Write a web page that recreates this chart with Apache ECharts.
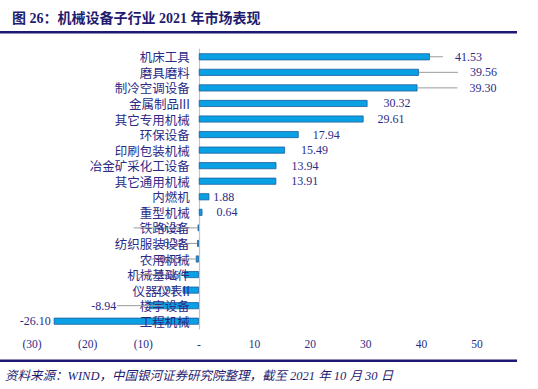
<!DOCTYPE html>
<html><head><meta charset="utf-8">
<script src="https://cdn.jsdelivr.net/npm/echarts@6/dist/echarts.min.js"></script>
<style>html,body{margin:0;padding:0;background:#fff;}#c{width:538px;height:389px;}</style>
</head><body><div id="c"></div>
<script>
// ---- data ----
const categories = ['机床工具','磨具磨料','制冷空调设备','金属制品III','其它专用机械','环保设备','印刷包装机械','冶金矿采化工设备','其它通用机械','内燃机','重型机械','铁路设备','纺织服装设备','农用机械','机械基础件','仪器仪表II','楼宇设备','工程机械'];
const values = [41.53,39.56,39.30,30.32,29.61,17.94,15.49,13.94,13.91,1.88,0.64,-0.22,-0.32,-0.55,-2.66,-2.91,-8.94,-26.10];
const xTicks = {min:-30, max:50, interval:10};

// ---- label layout (px offsets, outward from bar end) ----
const labelGap = [25,51,52,16,14,14,16,15,15,4,14,16,13,15,5,6,33,3];
const leader  = [[0,13],[0,39],[0,40],null,null,null,null,null,null,null,null,[0,64],[0,10],[0,47],[0,47],null,[-13,32],null];

const navy = '#2b2b86';
const FONT = "'Liberation Serif','Noto Sans CJK SC',serif";
const CJK = "'Noto Sans CJK SC',sans-serif";
const chart = echarts.init(document.getElementById('c'), null, {renderer:'svg'});
chart.setOption({
  animation:false,
  title:{text:'图 26：机械设备子行业 2021 年市场表现', left:7, top:6,
    textStyle:{fontSize:14, fontWeight:'bold', color:'#1f1b6e', fontFamily:FONT}},
  graphic:[
    {type:'rect', shape:{x:0,y:31,width:517,height:2.5}, style:{fill:'#1d1872'}},
    {type:'rect', shape:{x:0,y:359.5,width:517,height:2.5}, style:{fill:'#1d1872'}},
    {type:'text', x:5, y:376, style:{text:'资料来源：WIND，中国银河证券研究院整理，截至 2021 年 10 月 30 日',
      fontSize:12.5, fontStyle:'italic', fill:'#1f1b6e', fontFamily:FONT, verticalAlign:'middle'}}
  ],
  grid:{left:32, right:61, top:49, bottom:60, containLabel:false, outerBoundsMode:'none'},
  xAxis:{type:'value', min:xTicks.min, max:xTicks.max, interval:xTicks.interval,
    axisLine:{show:false}, axisTick:{show:false}, splitLine:{show:false},
    axisLabel:{color:navy, fontSize:11.5, fontFamily:FONT, margin:9,
      formatter:v=> v<0 ? '('+Math.abs(v)+')' : (v===0 ? '-' : String(v))}},
  yAxis:{type:'category', data:categories, inverse:true,
    axisLine:{show:true, onZero:true, lineStyle:{color:'#c4c4c4', width:1.2}}, axisTick:{show:false},
    axisLabel:{show:false}},
  series:[
    {type:'bar', data:values, barWidth:7, z:2,
      itemStyle:{color:'#0aa0e4', borderColor:'#1b5e9e', borderWidth:0.8}},
    {type:'custom', z:6, clip:false,
      data:values.map((v,i)=>[v,i]), encode:{x:0,y:1},
      renderItem:(params, api)=>{
        const i = params.dataIndex;
        const v = api.value(0);
        const p = api.coord([v, i]);
        const z0 = api.coord([0, i]);
        const s = v>=0 ? 1 : -1;
        const children = [];
        children.push({type:'text', x:z0[0]-9, y:z0[1],
          style:{text:categories[i], fontSize:12.5, fontFamily:CJK, fill:navy,
            align:'right', verticalAlign:'middle'}});
        const ld = leader[i];
        if (ld) children.push({type:'line', shape:{x1:p[0]+s*ld[0], y1:p[1], x2:p[0]+s*ld[1], y2:p[1]},
          style:{stroke:'#9a9a9a', lineWidth:1}});
        children.push({type:'text', x:p[0]+s*labelGap[i], y:p[1],
          style:{text:v.toFixed(2), fontSize:12, fontFamily:FONT, fill:navy,
            align: s>0?'left':'right', verticalAlign:'middle'}});
        return {type:'group', children};
      }}
  ]
});
</script></body></html>
